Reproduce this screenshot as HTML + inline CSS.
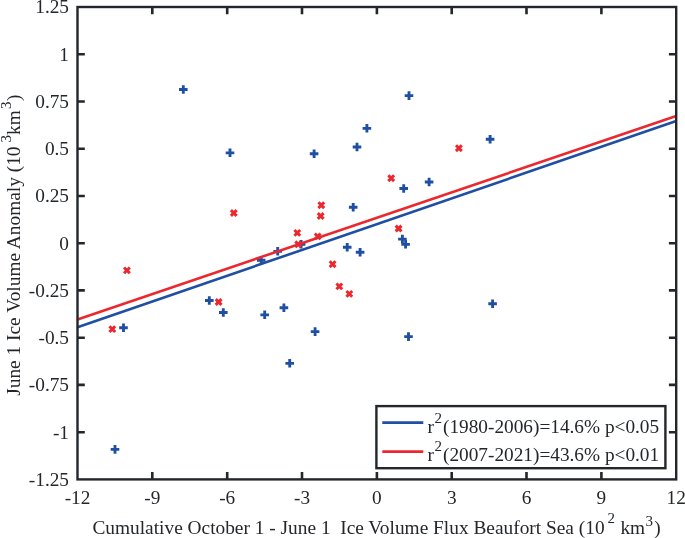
<!DOCTYPE html>
<html><head><meta charset="utf-8"><title>chart</title><style>html,body{margin:0;padding:0;background:#fff}</style></head><body>
<svg width="685" height="538" viewBox="0 0 685 538" style="display:block">
<rect width="685" height="538" fill="#fff"/>
<g stroke="#1f4fa3" stroke-width="2.85" fill="none">
<path d="M179.0 89.5H187.6M183.3 85.2V93.8"/>
<path d="M225.7 152.8H234.3M230.0 148.5V157.1"/>
<path d="M404.7 95.6H413.3M409.0 91.3V99.9"/>
<path d="M362.6 128.3H371.2M366.9 124.0V132.6"/>
<path d="M352.7 147.0H361.3M357.0 142.7V151.3"/>
<path d="M309.8 153.7H318.4M314.1 149.4V158.0"/>
<path d="M424.8 182.0H433.4M429.1 177.7V186.3"/>
<path d="M399.4 188.5H408.0M403.7 184.2V192.8"/>
<path d="M348.9 207.2H357.5M353.2 202.9V211.5"/>
<path d="M485.8 139.2H494.4M490.1 134.9V143.5"/>
<path d="M119.2 327.7H127.8M123.5 323.4V332.0"/>
<path d="M205.0 300.5H213.6M209.3 296.2V304.8"/>
<path d="M219.0 312.5H227.6M223.3 308.2V316.8"/>
<path d="M260.4 314.8H269.0M264.7 310.5V319.1"/>
<path d="M256.9 260.2H265.5M261.2 255.9V264.5"/>
<path d="M342.9 247.2H351.5M347.2 242.9V251.5"/>
<path d="M355.8 252.2H364.4M360.1 247.9V256.5"/>
<path d="M296.8 244.3H305.4M301.1 240.0V248.6"/>
<path d="M273.4 251.3H282.0M277.7 247.0V255.6"/>
<path d="M398.1 239.1H406.7M402.4 234.8V243.4"/>
<path d="M401.3 244.3H409.9M405.6 240.0V248.6"/>
<path d="M279.6 307.7H288.2M283.9 303.4V312.0"/>
<path d="M310.8 331.6H319.4M315.1 327.3V335.9"/>
<path d="M404.2 336.6H412.8M408.5 332.3V340.9"/>
<path d="M110.7 449.4H119.3M115.0 445.1V453.7"/>
<path d="M285.4 363.3H294.0M289.7 359.0V367.6"/>
<path d="M488.3 303.7H496.9M492.6 299.4V308.0"/>
</g>
<g stroke="#ea282e" stroke-width="3" fill="none">
<path d="M230.9 210.1L236.7 215.9M230.9 215.9L236.7 210.1"/>
<path d="M456.0 145.3L461.8 151.1M456.0 151.1L461.8 145.3"/>
<path d="M388.3 175.3L394.1 181.1M388.3 181.1L394.1 175.3"/>
<path d="M318.4 202.3L324.2 208.1M318.4 208.1L324.2 202.3"/>
<path d="M317.8 213.1L323.6 218.9M317.8 218.9L323.6 213.1"/>
<path d="M124.0 267.5L129.8 273.3M124.0 273.3L129.8 267.5"/>
<path d="M109.4 326.2L115.2 332.0M109.4 332.0L115.2 326.2"/>
<path d="M215.7 299.1L221.5 304.9M215.7 304.9L221.5 299.1"/>
<path d="M294.4 230.0L300.2 235.8M294.4 235.8L300.2 230.0"/>
<path d="M295.3 241.4L301.1 247.2M295.3 247.2L301.1 241.4"/>
<path d="M314.8 233.5L320.6 239.3M314.8 239.3L320.6 233.5"/>
<path d="M395.7 225.6L401.5 231.4M395.7 231.4L401.5 225.6"/>
<path d="M329.7 261.3L335.5 267.1M329.7 267.1L335.5 261.3"/>
<path d="M336.4 283.5L342.2 289.3M336.4 289.3L342.2 283.5"/>
<path d="M346.4 291.0L352.2 296.8M346.4 296.8L352.2 291.0"/>
</g>
<line x1="77.5" y1="327.3" x2="676.2" y2="121.0" stroke="#1f4fa3" stroke-width="2.6"/>
<line x1="77.5" y1="319.4" x2="676.2" y2="116.1" stroke="#ea282e" stroke-width="2.6"/>
<rect x="77.5" y="7.0" width="598.7" height="472.4" fill="none" stroke="#23272b" stroke-width="2.4"/>
<g stroke="#23272b" stroke-width="2.6">
<path d="M152.3 479.4V472.09999999999997M152.3 7.0V14.3"/>
<path d="M227.2 479.4V472.09999999999997M227.2 7.0V14.3"/>
<path d="M302.0 479.4V472.09999999999997M302.0 7.0V14.3"/>
<path d="M376.9 479.4V472.09999999999997M376.9 7.0V14.3"/>
<path d="M451.7 479.4V472.09999999999997M451.7 7.0V14.3"/>
<path d="M526.5 479.4V472.09999999999997M526.5 7.0V14.3"/>
<path d="M601.4 479.4V472.09999999999997M601.4 7.0V14.3"/>
<path d="M77.5 54.2H84.8M676.2 54.2H668.9000000000001"/>
<path d="M77.5 101.5H84.8M676.2 101.5H668.9000000000001"/>
<path d="M77.5 148.7H84.8M676.2 148.7H668.9000000000001"/>
<path d="M77.5 196.0H84.8M676.2 196.0H668.9000000000001"/>
<path d="M77.5 243.2H84.8M676.2 243.2H668.9000000000001"/>
<path d="M77.5 290.4H84.8M676.2 290.4H668.9000000000001"/>
<path d="M77.5 337.7H84.8M676.2 337.7H668.9000000000001"/>
<path d="M77.5 384.9H84.8M676.2 384.9H668.9000000000001"/>
<path d="M77.5 432.2H84.8M676.2 432.2H668.9000000000001"/>
</g>
<g font-family="'Liberation Serif', serif" font-size="19.3" fill="#23272b">
<text x="77.5" y="504" text-anchor="middle">-12</text>
<text x="152.3" y="504" text-anchor="middle">-9</text>
<text x="227.2" y="504" text-anchor="middle">-6</text>
<text x="302.0" y="504" text-anchor="middle">-3</text>
<text x="376.9" y="504" text-anchor="middle">0</text>
<text x="451.7" y="504" text-anchor="middle">3</text>
<text x="526.5" y="504" text-anchor="middle">6</text>
<text x="601.4" y="504" text-anchor="middle">9</text>
<text x="676.2" y="504" text-anchor="middle">12</text>
<text x="69" y="13.3" text-anchor="end">1.25</text>
<text x="69" y="60.5" text-anchor="end">1</text>
<text x="69" y="107.8" text-anchor="end">0.75</text>
<text x="69" y="155.0" text-anchor="end">0.5</text>
<text x="69" y="202.3" text-anchor="end">0.25</text>
<text x="69" y="249.5" text-anchor="end">0</text>
<text x="69" y="296.7" text-anchor="end">-0.25</text>
<text x="69" y="344.0" text-anchor="end">-0.5</text>
<text x="69" y="391.2" text-anchor="end">-0.75</text>
<text x="69" y="438.5" text-anchor="end">-1</text>
<text x="69" y="485.7" text-anchor="end">-1.25</text>
<text x="92.4" y="533.5" font-size="19.36" xml:space="preserve">Cumulative October 1 - June 1  Ice Volume Flux Beaufort Sea (10</text><text x="607.6" y="523.0" font-size="15" xml:space="preserve">2</text><text x="620.4" y="533.5" font-size="19.3" xml:space="preserve">km</text><text x="645.4" y="526.0" font-size="15" xml:space="preserve">3</text><text x="654.2" y="533.5" font-size="19.3" xml:space="preserve">)</text>
<g transform="translate(20.4,395.8) rotate(-90)"><text x="0" y="0" font-size="19.36" xml:space="preserve">June 1 Ice Volume Anomaly (10</text><text x="253.2" y="-9.4" font-size="15" xml:space="preserve">3</text><text x="260.8" y="0" font-size="19.3" xml:space="preserve">km</text><text x="286.9" y="-9.4" font-size="15" xml:space="preserve">3</text><text x="294.8" y="0" font-size="19.3" xml:space="preserve">)</text></g>
<rect x="376.4" y="406.1" width="289.0" height="62.1" fill="#fff" stroke="#23272b" stroke-width="2.4"/>
<line x1="382.3" y1="422.6" x2="423.3" y2="422.6" stroke="#1f4fa3" stroke-width="2.7"/>
<line x1="382.3" y1="451.7" x2="423.3" y2="451.7" stroke="#ea282e" stroke-width="2.7"/>
<text x="427.5" y="432.7" font-size="19.3" xml:space="preserve">r</text><text x="434.6" y="422.7" font-size="15" xml:space="preserve">2</text><text x="443.0" y="432.7" font-size="19.3" xml:space="preserve">(1980-2006)=14.6% p&lt;0.05</text>
<text x="427.5" y="461.4" font-size="19.3" xml:space="preserve">r</text><text x="434.6" y="451.4" font-size="15" xml:space="preserve">2</text><text x="443.0" y="461.4" font-size="19.3" xml:space="preserve">(2007-2021)=43.6% p&lt;0.01</text>
</g>
</svg>
</body></html>
